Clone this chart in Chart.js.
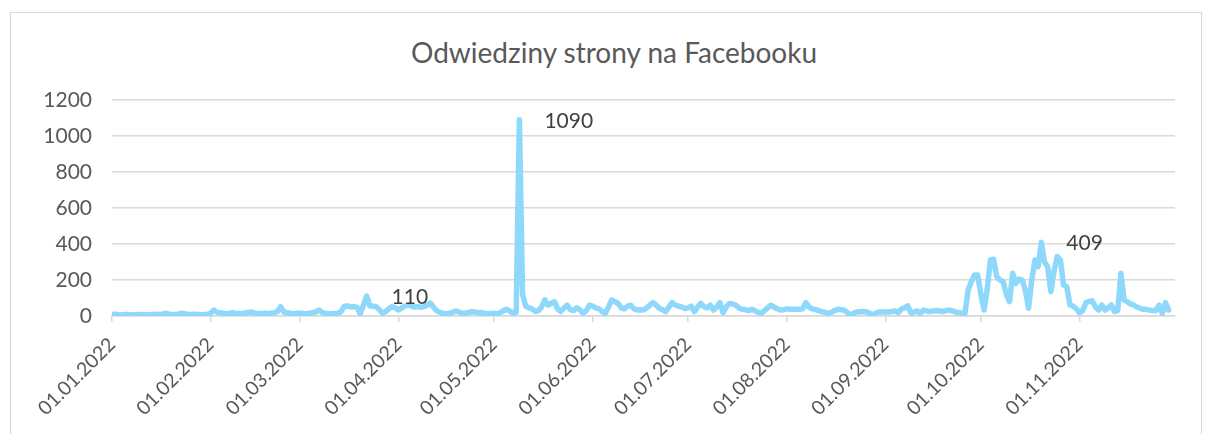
<!DOCTYPE html>
<html lang="pl">
<head>
    <meta charset="UTF-8">
    <title>Odwiedziny strony na Facebooku</title>
    <script src="https://cdn.jsdelivr.net/npm/chart.js"></script>
    <style>
        body {
            margin: 0;
            background: #fff;
            font-family: Lato, "Open Sans", sans-serif;
        }
        .frame {
            position: absolute;
            left: 10px;
            top: 12px;
            width: 1190px;
            height: 440px;
            border: 1.5px solid #d9d9d9;
        }
        .wrap {
            position: absolute;
            left: 0;
            top: 0;
            width: 1208px;
            height: 434px;
        }
        .title {
            position: absolute;
            left: 214px;
            width: 800px;
            top: 35px;
            text-align: center;
            font-size: 28px;
            line-height: 34px;
            color: #595959;
        }
    </style>
</head>
<body>
    <div class="frame"></div>
    <div class="title">Odwiedziny strony na Facebooku</div>
    <div class="wrap">
        <canvas id="chart" width="1208" height="434"></canvas>
    </div>

    <script>
        // daily visits, 01.01.2022 - 29.11.2022, one array per month
        const jan = [8,10,7,6,8,9,7,6,8,9,7,8,6,9,10,8,12,15,10,8,9,12,15,12,9,8,10,9,7,8,9];
        const feb = [15,33,20,18,15,12,15,18,14,15,12,18,20,22,15,12,14,15,14,15,18,25,52,22,18,15,12,15];
        const mar = [15,14,12,15,18,22,33,20,14,12,12,14,15,25,54,56,50,52,48,12,60,110,56,55,52,35,15,25,40,52,45];
        const apr = [33,45,55,61,55,50,52,48,52,60,72,50,30,20,15,12,15,20,28,22,15,15,18,24,22,18,20,15,12,14];
        const may = [15,12,18,30,37,28,15,20,1090,120,55,45,40,25,30,50,90,60,70,80,40,25,45,60,35,30,45,35,15,30,60];
        const jun = [55,45,40,25,15,50,89,80,70,45,40,55,60,40,33,35,33,45,60,75,60,42,35,24,50,74,60,55,50,42];
        const jul = [45,55,24,50,70,52,45,60,33,50,74,18,50,70,67,60,45,37,35,30,37,30,20,15,30,45,60,50,40,33,35];
        const aug = [40,37,37,38,37,40,74,50,40,37,30,24,20,15,20,30,37,35,33,20,6,15,22,24,25,24,15,6,15,22,24];
        const sep = [22,22,25,28,18,39,45,56,18,22,28,15,33,28,25,28,30,28,25,30,33,28,22,18,15,15,144,190,228,228];
        const oct = [120,33,150,311,315,218,200,191,120,80,237,181,204,200,140,43,200,311,274,409,300,274,135,250,330,311,172,163,61,55,40];
        const nov = [18,30,74,80,85,50,33,61,33,45,61,24,30,237,89,80,67,61,50,43,37,37,33,30,30,61,15,74,33];

        const visits = [].concat(jan, feb, mar, apr, may, jun, jul, aug, sep, oct, nov);

        // month starts (day index from 01.01.2022) used as x tick positions
        const monthStarts = [0, 31, 59, 90, 120, 151, 181, 212, 243, 273, 304];
        const yTicks = [0, 200, 400, 600, 800, 1000, 1200];
        // days whose values get a data label
        const labeledDays = [80, 128, 292];

        function dayLabel(i) {
            const d = new Date(2022, 0, 1 + i);
            const dd = String(d.getDate()).padStart(2, '0');
            const mm = String(d.getMonth() + 1).padStart(2, '0');
            return dd + '.' + mm + '.' + d.getFullYear();
        }

        const points = visits.map((v, i) => ({ x: i, y: v }));
        const font = 'Lato, "Open Sans", sans-serif';

        const valueLabels = {
            id: 'valueLabels',
            afterDatasetsDraw(chart) {
                const ctx = chart.ctx;
                const xs = chart.scales.x, ys = chart.scales.y;
                ctx.save();
                ctx.font = '21px ' + font;
                ctx.fillStyle = '#404040';
                ctx.textAlign = 'left';
                ctx.textBaseline = 'middle';
                labeledDays.forEach(i => {
                    ctx.fillText(String(visits[i]), xs.getPixelForValue(i) + 25, ys.getPixelForValue(visits[i]) + 1);
                });
                ctx.restore();
            }
        };

        new Chart(document.getElementById('chart'), {
            type: 'line',
            data: {
                datasets: [{
                    data: points,
                    borderColor: '#8ED8FB',
                    borderWidth: 5.5,
                    pointRadius: 0,
                    tension: 0,
                    borderJoinStyle: 'round',
                    borderCapStyle: 'round'
                }]
            },
            options: {
                responsive: false,
                animation: false,
                layout: { padding: { left: 0, right: 33, top: 100, bottom: 0 } },
                plugins: {
                    legend: { display: false },
                    tooltip: { enabled: false },
                    title: { display: false }
                },
                scales: {
                    x: {
                        type: 'linear',
                        min: 0,
                        max: 334,
                        afterBuildTicks(axis) {
                            axis.ticks = monthStarts.map(v => ({ value: v }));
                        },
                        afterFit(axis) { axis.height = 118; },
                        ticks: {
                            autoSkip: false,
                            minRotation: 45,
                            maxRotation: 45,
                            padding: 11,
                            color: '#595959',
                            font: { family: font, size: 19.5 },
                            callback: v => dayLabel(v)
                        },
                        grid: {
                            drawOnChartArea: false,
                            drawTicks: true,
                            tickLength: 6,
                            color: '#d9d9d9',
                            lineWidth: 1.5
                        },
                        border: { color: '#d9d9d9', width: 1.5 }
                    },
                    y: {
                        min: 0,
                        max: 1200,
                        afterBuildTicks(axis) {
                            axis.ticks = yTicks.map(v => ({ value: v }));
                        },
                        afterFit(axis) { axis.width = 112; },
                        ticks: {
                            padding: 20,
                            color: '#595959',
                            font: { family: font, size: 21 },
                            callback: v => String(v)
                        },
                        grid: {
                            drawTicks: false,
                            color: '#d9d9d9',
                            lineWidth: 1.5
                        },
                        border: { display: false }
                    }
                }
            },
            plugins: [valueLabels]
        });
    </script>
</body>
</html>
